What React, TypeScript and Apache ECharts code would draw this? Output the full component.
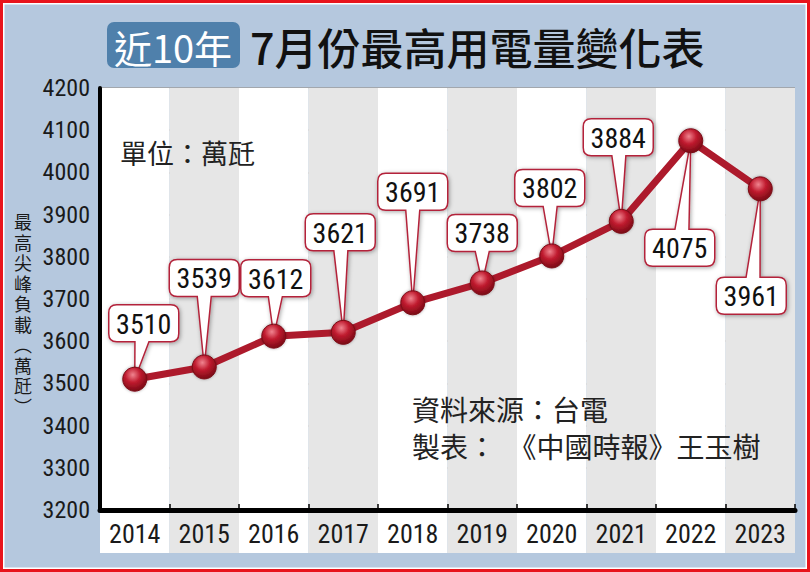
import React, { useEffect, useRef } from "react";
import * as echarts from "echarts";

const categories = ["2014", "2015", "2016", "2017", "2018", "2019", "2020", "2021", "2022", "2023"];
const peakLoad = [3510, 3539, 3612, 3621, 3691, 3738, 3802, 3884, 4075, 3961];
const yMin = 3200;
const yMax = 4200;
const yInterval = 100;

// callout box offsets (pixels) relative to each point
const calloutOffsets = [
  [9, -56], [0, -89], [2, -58], [-3, -100], [0, -111],
  [0, -50], [-2, -68], [-3, -84], [-11, 107], [-9, 107],
];

const NARROW = "'Liberation Sans Narrow', 'Arial Narrow', 'Roboto Condensed', 'Liberation Sans', sans-serif";
const CJK = "'Noto Sans CJK TC', 'Noto Sans CJK SC', sans-serif";

export default function App() {
  const ref = useRef<HTMLDivElement>(null);
  useEffect(() => {
    if (!ref.current) return;
    const chart = echarts.init(ref.current, null, { renderer: "svg" });
    const BW = 70, BH = 37, R = 8, TW = 7;
    const renderItem = (params: any, api: any) => {
      const idx = api.value(0);
      const val = api.value(1);
      const p = api.coord([idx, val]);
      const off = calloutOffsets[params.dataIndex];
      const bx = p[0] + off[0];
      const by = p[1] + off[1];
      const x0 = bx - BW / 2, x1 = bx + BW / 2, y0 = by - BH / 2, y1 = by + BH / 2;
      const tx = bx + (p[0] - bx) * 0.2;
      let d: string;
      if (off[1] < 0) {
        d = `M${x0 + R} ${y0} L${x1 - R} ${y0} Q${x1} ${y0} ${x1} ${y0 + R} L${x1} ${y1 - R} Q${x1} ${y1} ${x1 - R} ${y1} L${tx + TW} ${y1} L${p[0]} ${p[1]} L${tx - TW} ${y1} L${x0 + R} ${y1} Q${x0} ${y1} ${x0} ${y1 - R} L${x0} ${y0 + R} Q${x0} ${y0} ${x0 + R} ${y0} Z`;
      } else {
        d = `M${x0 + R} ${y0} L${tx - TW} ${y0} L${p[0]} ${p[1]} L${tx + TW} ${y0} L${x1 - R} ${y0} Q${x1} ${y0} ${x1} ${y0 + R} L${x1} ${y1 - R} Q${x1} ${y1} ${x1 - R} ${y1} L${x0 + R} ${y1} Q${x0} ${y1} ${x0} ${y1 - R} L${x0} ${y0 + R} Q${x0} ${y0} ${x0 + R} ${y0} Z`;
      }
      return {
        type: "group",
        children: [
          {
            type: "path",
            shape: { pathData: d },
            style: {
              fill: "#ffffff",
              stroke: "#b3243a",
              lineWidth: 1.5,
              shadowBlur: 4,
              shadowOffsetX: 1,
              shadowOffsetY: 1,
              shadowColor: "rgba(0,0,0,0.35)",
            },
          },
          {
            type: "text",
            style: {
              text: String(val),
              x: bx,
              y: by + 1,
              align: "center",
              verticalAlign: "middle",
              font: `28px ${NARROW}`,
              fill: "#111111",
            },
          },
        ],
      };
    };

    const yNameChars = ["最", "高", "尖", "峰", "負", "載", "︵", "萬", "瓩", "︶"];

    chart.setOption({
      animation: false,
      backgroundColor: "#b5c8de",
      grid: [
        { left: 100, right: 15, top: 88, bottom: 62 },
        { left: 100, right: 15, top: 512, height: 41 },
      ],
      xAxis: [
        {
          type: "category",
          gridIndex: 0,
          data: categories,
          boundaryGap: true,
          axisLine: { lineStyle: { color: "#000", width: 5 } },
          axisTick: { show: true, inside: true, length: 6, lineStyle: { color: "#000", width: 1.5 } },
          axisLabel: { show: false },
          splitLine: { show: false },
          splitArea: { show: true, areaStyle: { color: ["#ffffff", "#e6e6e6"] } },
        },
        {
          type: "category",
          gridIndex: 1,
          data: categories,
          position: "top",
          boundaryGap: true,
          axisLine: { show: false },
          axisTick: { show: false },
          axisLabel: { inside: true, margin: 9, fontSize: 26, color: "#1a1a1a", fontFamily: NARROW },
          splitLine: { show: false },
          splitArea: { show: true, areaStyle: { color: ["#ffffff", "#e6e6e6"] } },
        },
      ],
      yAxis: [
        {
          type: "value",
          gridIndex: 0,
          min: yMin,
          max: yMax,
          interval: yInterval,
          axisLine: { show: true, lineStyle: { color: "#000", width: 4 } },
          axisTick: { show: false },
          axisLabel: {
            fontSize: 24,
            color: "#1a1a1a",
            margin: 10,
            fontFamily: NARROW,
            formatter: (v: number) => String(v),
          },
          splitLine: { lineStyle: { color: "#9c9c9c", width: 1.5 } },
        },
        { type: "value", gridIndex: 1, show: false },
      ],
      series: [
        {
          type: "custom",
          xAxisIndex: 0,
          yAxisIndex: 0,
          z: 2,
          clip: false,
          renderItem,
          data: peakLoad.map((v, i) => [i, v]),
          encode: { x: 0, y: 1 },
        },
        {
          type: "line",
          xAxisIndex: 0,
          yAxisIndex: 0,
          z: 3,
          data: peakLoad,
          symbol: "circle",
          symbolSize: 24,
          lineStyle: { color: "#ad1a2c", width: 7 },
          itemStyle: {
            color: new echarts.graphic.RadialGradient(0.42, 0.32, 0.7, [
              { offset: 0, color: "#f0848f" },
              { offset: 0.45, color: "#c01b2f" },
              { offset: 1, color: "#760914" },
            ]),
            borderColor: "#7a0a16",
            borderWidth: 1,
            shadowBlur: 3,
            shadowColor: "rgba(0,0,0,0.35)",
          },
        },
      ],
      graphic: [
        {
          type: "rect",
          shape: { x: 107, y: 22, width: 133, height: 46, r: 7 },
          style: { fill: "#4f80ab" },
        },
        {
          type: "text",
          style: { text: "近10年", x: 173, y: 46, align: "center", verticalAlign: "middle", font: `38px ${CJK}`, fill: "#ffffff" },
        },
        {
          type: "text",
          style: { text: "7月份最高用電量變化表", x: 250, y: 46, align: "left", verticalAlign: "middle", font: `500 43px ${CJK}`, fill: "#111111" },
        },
        ...yNameChars.map((c, i) => ({
          type: "text",
          style: { text: c, x: 23, y: 221 + i * 20.5, align: "center", verticalAlign: "middle", font: `18px ${CJK}`, lineHeight: 19, fill: "#1a1a1a" },
        })),
        {
          type: "text",
          z: 10,
          style: { text: "單位：萬瓩", x: 120, y: 152, align: "left", verticalAlign: "middle", font: `27px ${CJK}`, fill: "#222222" },
        },
        {
          type: "text",
          z: 10,
          style: { text: "資料來源：台電", x: 412, y: 409, align: "left", verticalAlign: "middle", font: `28px ${CJK}`, fill: "#222222" },
        },
        {
          type: "text",
          z: 10,
          style: { text: "製表：  《中國時報》王玉樹", x: 412, y: 446, align: "left", verticalAlign: "middle", font: `28px ${CJK}`, fill: "#222222" },
        },
        {
          type: "rect",
          z: 20,
          shape: { x: 1.5, y: 1.5, width: 807, height: 569 },
          style: { fill: "none", stroke: "#e8141c", lineWidth: 3 },
        },
        {
          type: "rect",
          z: 20,
          shape: { x: 3.75, y: 3.75, width: 802.5, height: 564.5 },
          style: { fill: "none", stroke: "#ffffff", lineWidth: 1.5 },
        },
      ],
    });
    return () => chart.dispose();
  }, []);
  return (
    <div
      ref={ref}
      style={{ position: "fixed", left: 0, top: 0, width: 810, height: 572 }}
    />
  );
}
